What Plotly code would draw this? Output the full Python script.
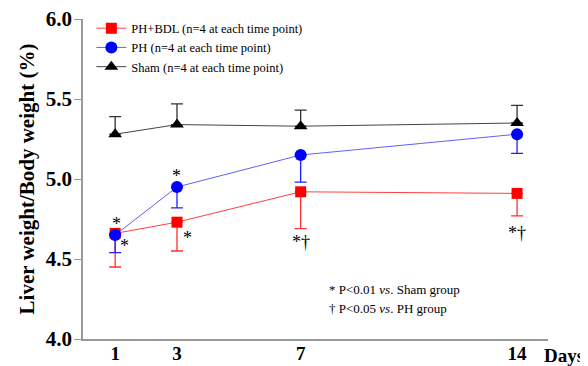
import plotly.graph_objects as go

days = [1, 3, 7, 14]
day_labels = ["1", "3", "7", "14"]

bdl_mean = [4.66, 4.73, 4.92, 4.91]
bdl_err = [0.21, 0.18, 0.23, 0.14]

ph_mean = [4.65, 4.95, 5.15, 5.28]
ph_err = [0.11, 0.13, 0.17, 0.12]

sham_mean = [5.28, 5.34, 5.33, 5.35]
sham_err = [0.11, 0.13, 0.10, 0.11]

zeros = [0, 0, 0, 0]

FONT = "Liberation Serif"

fig = go.Figure()

fig.add_trace(go.Scatter(
    x=days, y=bdl_mean, mode="lines+markers",
    name="PH+BDL (n=4 at each time point)",
    line=dict(color="#ff4040", width=1),
    marker=dict(symbol="square", size=11, color="#ff0000"),
    error_y=dict(type="data", array=zeros, arrayminus=bdl_err, symmetric=False,
                 color="#ff3030", thickness=1.3, width=6),
))
fig.add_trace(go.Scatter(
    x=days, y=ph_mean, mode="lines+markers",
    name="PH (n=4 at each time point)",
    line=dict(color="#6060ff", width=1),
    marker=dict(symbol="circle", size=12, color="#0000ff"),
    error_y=dict(type="data", array=zeros, arrayminus=ph_err, symmetric=False,
                 color="#2020ff", thickness=1.3, width=6),
))
fig.add_trace(go.Scatter(
    x=days, y=sham_mean, mode="lines+markers",
    name="Sham (n=4 at each time point)",
    line=dict(color="#444444", width=1),
    marker=dict(symbol="triangle-up", size=12, color="#000000"),
    error_y=dict(type="data", array=sham_err, arrayminus=zeros, symmetric=False,
                 color="#333333", thickness=1.3, width=6),
))

ann = []
def add(x, y, text, xshift=0, yshift=0, size=18):
    ann.append(dict(x=x, y=y, xref="x", yref="y", text=text, showarrow=False,
                    xshift=xshift, yshift=yshift,
                    font=dict(family=FONT, size=size, color="#000000")))

# significance marks
add(1, ph_mean[0], "*", xshift=1, yshift=11)
add(1, ph_mean[0], "*", xshift=9, yshift=-11)
add(3, ph_mean[1], "*", xshift=0, yshift=11)
add(3, bdl_mean[1], "*", xshift=11, yshift=-16)
add(7, bdl_mean[2] - bdl_err[2], "*†", xshift=0, yshift=-13)
add(14, bdl_mean[3] - bdl_err[3], "*†", xshift=0, yshift=-17)

ann.append(dict(xref="paper", yref="paper", x=0.525, y=0.155, xanchor="left", yanchor="middle",
                showarrow=False, text="* P&lt;0.01 <i>vs</i>. Sham group",
                font=dict(family=FONT, size=13, color="#000000")))
ann.append(dict(xref="paper", yref="paper", x=0.525, y=0.096, xanchor="left", yanchor="middle",
                showarrow=False, text="† P&lt;0.05 <i>vs</i>. PH group",
                font=dict(family=FONT, size=13, color="#000000")))
ann.append(dict(xref="paper", yref="paper", x=0.987, y=-0.05, xanchor="left", yanchor="middle",
                showarrow=False, text="<b>Days</b>",
                font=dict(family=FONT, size=19, color="#000000")))

# page body has an 8px margin, so the figure is 8px smaller and margins shifted by 8px
fig.update_layout(
    width=580, height=358,
    margin=dict(l=75, r=40, t=11, b=27, autoexpand=False),
    paper_bgcolor="white", plot_bgcolor="white",
    font=dict(family=FONT, color="#000000"),
    showlegend=True,
    legend=dict(x=0.018, y=1.017, xanchor="left", yanchor="top",
                bgcolor="rgba(0,0,0,0)", font=dict(family=FONT, size=12.5),
                tracegroupgap=0, itemwidth=30),
    annotations=ann,
    xaxis=dict(range=[-0.04, 15.0], tickmode="array", tickvals=days, ticktext=[f"<b>{t}</b>" for t in day_labels],
               showline=True, linecolor="#999999", linewidth=1.5, ticks="", showgrid=False, zeroline=False,
               automargin=False, ticklabeloverflow="allow", ticklabelstandoff=-4,
               tickfont=dict(family=FONT, size=19, color="#000000")),
    yaxis=dict(range=[4.0, 6.0], tickvals=[4.0, 4.5, 5.0, 5.5, 6.0],
               ticktext=["<b>4.0</b>", "<b>4.5</b>", "<b>5.0</b>", "<b>5.5</b>", "<b>6.0</b>"],
               showline=True, linecolor="#999999", linewidth=1.5, ticks="outside", ticklen=7,
               tickcolor="#999999", tickwidth=1, showgrid=False, zeroline=False,
               automargin=False, ticklabeloverflow="allow", ticklabelstandoff=-2,
               tickfont=dict(family=FONT, size=21, color="#000000"),
               title=dict(text="<b>Liver weight/Body weight (%)</b>", standoff=5,
                          font=dict(family=FONT, size=21, color="#000000"))),
)

fig.write_html("out.html")
